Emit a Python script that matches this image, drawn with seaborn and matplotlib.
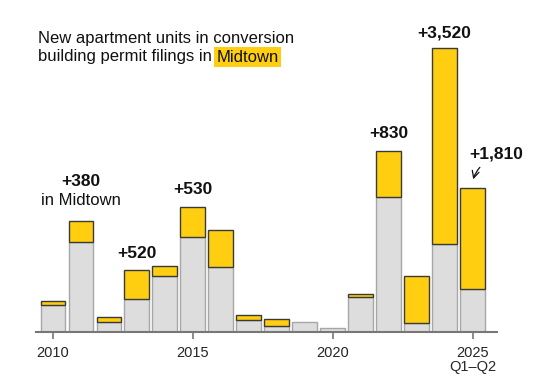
import numpy as np
import pandas as pd
import seaborn as sns
import matplotlib.pyplot as plt

# --- data (units) ---
years = ['2010', '2011', '2012', '2013', '2014', '2015', '2016', '2017',
         '2018', '2019', '2020', '2021', '2022', '2023', '2024', '2025']
existing = [490, 1620, 180, 600, 1010, 1715, 1175, 210,
            105, 175, 65, 625, 2425, 155, 1585, 775]
added = [70, 380, 90, 520, 170, 530, 660, 95,
         125, 0, 0, 55, 830, 850, 3520, 1810]
tick_years = ['2010', '2015', '2020', '2025']
tick_labels = ['2010', '2015', '2020', '2025\nQ1\u2013Q2']

YELLOW = '#FFCE10'
GRAY = '#DDDDDD'

df = pd.DataFrame({'year': years, 'existing': existing, 'added': added})

sns.set_style('white')
plt.rcParams['font.family'] = ['Liberation Sans', 'DejaVu Sans']

fig = plt.figure(figsize=(5.52, 3.82), dpi=100)
ax = fig.add_axes([36 / 552, 50 / 382, 461 / 552, 312 / 382])

sns.barplot(data=df, x='year', y='existing', order=years, color=GRAY,
            edgecolor='#a6a6a6', linewidth=1.0, width=0.875, saturation=1,
            ax=ax, zorder=2)

# yellow top segments stacked on the grey part
pos = np.arange(len(years))
mask = df['added'] > 0
ax.bar(pos[mask], df['added'][mask], bottom=df['existing'][mask], width=0.875,
       color=YELLOW, edgecolor='#3a3a3a', linewidth=1.0, zorder=3)

ax.set_xlim(-0.6, 15.875)
ax.set_ylim(0, 5616)
ax.set_xlabel('')
ax.set_ylabel('')
ax.set_yticks([])
ax.set_xticks([years.index(y) for y in tick_years])
ax.set_xticklabels(tick_labels, fontsize=10.5, linespacing=1.05)
ax.tick_params(axis='x', length=5, width=1.2, color='#777777', pad=5,
               bottom=True, direction='out')
for s in ['top', 'right', 'left']:
    ax.spines[s].set_visible(False)
ax.spines['bottom'].set_color('#777777')
ax.spines['bottom'].set_linewidth(1.5)

# annotations
bold = dict(fontsize=12.5, fontweight='bold', ha='center', va='center', color='#111111')
ax.text(1, 2705, '+380', **bold)
ax.text(1, 2363, 'in Midtown', fontsize=12, ha='center', va='center', color='#111111')
ax.text(3, 1422, '+520', **bold)
ax.text(5, 2574, '+530', **bold)
ax.text(12, 3577, '+830', **bold)
ax.text(14, 5377, '+3,520', **bold)
ax.text(15.85, 3199, '+1,810', **bold)
ax.annotate('', xy=(15.0, 2700), xytext=(15.33, 3000),
            arrowprops=dict(arrowstyle='->,head_length=0.5,head_width=0.25',
                            color='#111111', lw=0.9,
                            connectionstyle='arc3,rad=0.15'))

# title with highlighted word
fig.text(38 / 552, 1 - 38 / 382, 'New apartment units in conversion',
         fontsize=12, va='center', ha='left', color='#111111')
t1 = fig.text(38 / 552, 1 - 57 / 382, 'building permit filings in ',
              fontsize=12, va='center', ha='left', color='#111111')
fig.canvas.draw()
bb = t1.get_window_extent()
x1 = bb.x1 / fig.bbox.width
fig.text(x1, 1 - 57 / 382, 'Midtown', fontsize=12, va='center', ha='left',
         color='#111111',
         bbox=dict(boxstyle='square,pad=0.15', facecolor=YELLOW, edgecolor='none'))

fig.savefig('out.png', dpi=100)
